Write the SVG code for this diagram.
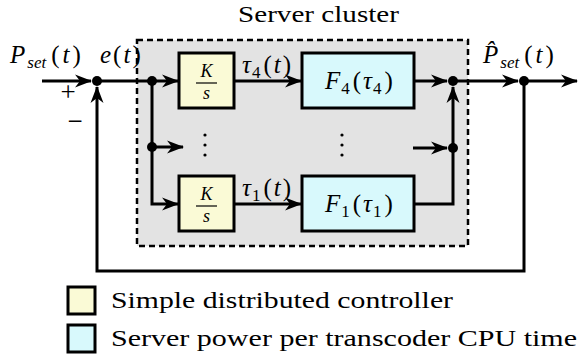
<svg xmlns="http://www.w3.org/2000/svg" width="579" height="362" viewBox="0 0 579 362" font-family="'Liberation Serif', 'Times New Roman', serif">
<style>
text{font-family:'Liberation Serif','Times New Roman',serif;fill:#000}
.i{font-style:italic}
.lbl{font-size:25px}
.sub{font-size:17px}
.frac{font-size:18px}
.ctrl{fill:#fafad6;stroke:#000;stroke-width:3}
.pwr{fill:#d8f9fc;stroke:#000;stroke-width:3}
.wire{fill:none;stroke:#000;stroke-width:3}
.dot{fill:#000}
</style>
<defs>
<marker id="arr" viewBox="-17 -8 18 16" refX="0" refY="0" markerWidth="18" markerHeight="16" markerUnits="userSpaceOnUse" orient="auto">
<path d="M1,0 L-16,-6.5 L-11,0 L-16,6.5 Z" fill="#000"/>
</marker>
</defs>
<rect width="579" height="362" fill="#fff"/>
<g id="cluster">
<rect x="137" y="40" width="331" height="206" fill="#e3e3e3" stroke="#000" stroke-width="2.5" stroke-dasharray="6,4"/>
<text x="238" y="22" font-size="23" textLength="161" lengthAdjust="spacingAndGlyphs">Server cluster</text>
</g>
<g id="ctrl4">
<rect class="ctrl" x="179" y="53" width="55" height="55"/>
<text class="i frac" x="206.5" y="77" text-anchor="middle">K</text>
<line x1="196" y1="83" x2="217" y2="83" stroke="#000" stroke-width="1.2"/>
<text class="i frac" x="206.5" y="99" text-anchor="middle">s</text>
</g>
<g id="pwr4">
<rect class="pwr" x="302" y="53" width="112" height="55"/>
<text class="lbl" x="325" y="89"><tspan class="i">F</tspan><tspan class="sub" dx="1" dy="5">4</tspan><tspan dx="3" dy="-5">(</tspan><tspan class="i" dx="2">τ</tspan><tspan class="sub" dx="1" dy="5">4</tspan><tspan dx="3" dy="-5">)</tspan></text>
</g>
<g id="ctrl1">
<rect class="ctrl" x="179" y="176" width="55" height="55"/>
<text class="i frac" x="206.5" y="200" text-anchor="middle">K</text>
<line x1="196" y1="206" x2="217" y2="206" stroke="#000" stroke-width="1.2"/>
<text class="i frac" x="206.5" y="222" text-anchor="middle">s</text>
</g>
<g id="pwr1">
<rect class="pwr" x="302" y="176" width="112" height="55"/>
<text class="lbl" x="325" y="212"><tspan class="i">F</tspan><tspan class="sub" dx="1" dy="5">1</tspan><tspan dx="3" dy="-5">(</tspan><tspan class="i" dx="2">τ</tspan><tspan class="sub" dx="1" dy="5">1</tspan><tspan dx="3" dy="-5">)</tspan></text>
</g>
<g id="connectors">
<path class="wire" d="M42,81 H91" marker-end="url(#arr)"/>
<path class="wire" d="M97,81 H178" marker-end="url(#arr)"/>
<path class="wire" d="M152,81 V204 H178" marker-end="url(#arr)"/>
<path class="wire" d="M152,147 H183" marker-end="url(#arr)"/>
<path class="wire" d="M234,81 H301" marker-end="url(#arr)"/>
<path class="wire" d="M234,204 H301" marker-end="url(#arr)"/>
<path class="wire" d="M414,81 H447" marker-end="url(#arr)"/>
<path class="wire" d="M414,204 H453 V87" marker-end="url(#arr)"/>
<path class="wire" d="M413,148 H447" marker-end="url(#arr)"/>
<path class="wire" d="M453,81 H518" marker-end="url(#arr)"/>
<path class="wire" d="M524,81 H577" marker-end="url(#arr)"/>
<path class="wire" d="M524,81 V271 H97 V87" marker-end="url(#arr)"/>
<circle class="dot" cx="97" cy="81" r="5"/>
<circle class="dot" cx="152" cy="81" r="5"/>
<circle class="dot" cx="152" cy="147" r="5"/>
<circle class="dot" cx="453" cy="81" r="5"/>
<circle class="dot" cx="453" cy="148" r="5"/>
<circle class="dot" cx="524" cy="81" r="5"/>
<g class="dot">
<circle cx="205" cy="135" r="1.6"/><circle cx="205" cy="145" r="1.6"/><circle cx="205" cy="155" r="1.6"/>
<circle cx="342" cy="135" r="1.6"/><circle cx="342" cy="145" r="1.6"/><circle cx="342" cy="155" r="1.6"/>
</g>
</g>
<g id="labels">
<text class="lbl" x="10" y="63"><tspan class="i">P</tspan><tspan class="sub i" dx="2" dy="5">set</tspan><tspan dx="5" dy="-5">(</tspan><tspan class="i" dx="3">t</tspan><tspan dx="3">)</tspan></text>
<text class="lbl" x="100" y="63"><tspan class="i">e</tspan><tspan dx="2">(</tspan><tspan class="i" dx="2">t</tspan><tspan dx="2">)</tspan></text>
<text x="68" y="101" font-size="27" text-anchor="middle">+</text>
<text x="75" y="130" font-size="27" text-anchor="middle">−</text>
<text class="lbl" x="242" y="73"><tspan class="i">τ</tspan><tspan class="sub" dx="1" dy="5">4</tspan><tspan dx="3" dy="-5">(</tspan><tspan class="i" dx="2">t</tspan><tspan dx="2">)</tspan></text>
<text class="lbl" x="242" y="196"><tspan class="i">τ</tspan><tspan class="sub" dx="1" dy="5">1</tspan><tspan dx="3" dy="-5">(</tspan><tspan class="i" dx="2">t</tspan><tspan dx="2">)</tspan></text>
<text class="lbl" x="483" y="63"><tspan class="i">P̂</tspan><tspan class="sub i" dx="2" dy="5">set</tspan><tspan dx="5" dy="-5">(</tspan><tspan class="i" dx="3">t</tspan><tspan dx="3">)</tspan></text>
</g>
<g id="legend">
<rect class="ctrl" x="68" y="287" width="27" height="27" stroke-width="2.5"/>
<text x="111" y="308" font-size="23" textLength="342" lengthAdjust="spacingAndGlyphs">Simple distributed controller</text>
<rect class="pwr" x="68" y="325" width="27" height="27" stroke-width="2.5"/>
<text x="111" y="346" font-size="23" textLength="466" lengthAdjust="spacingAndGlyphs">Server power per transcoder CPU time</text>
</g>
</svg>
